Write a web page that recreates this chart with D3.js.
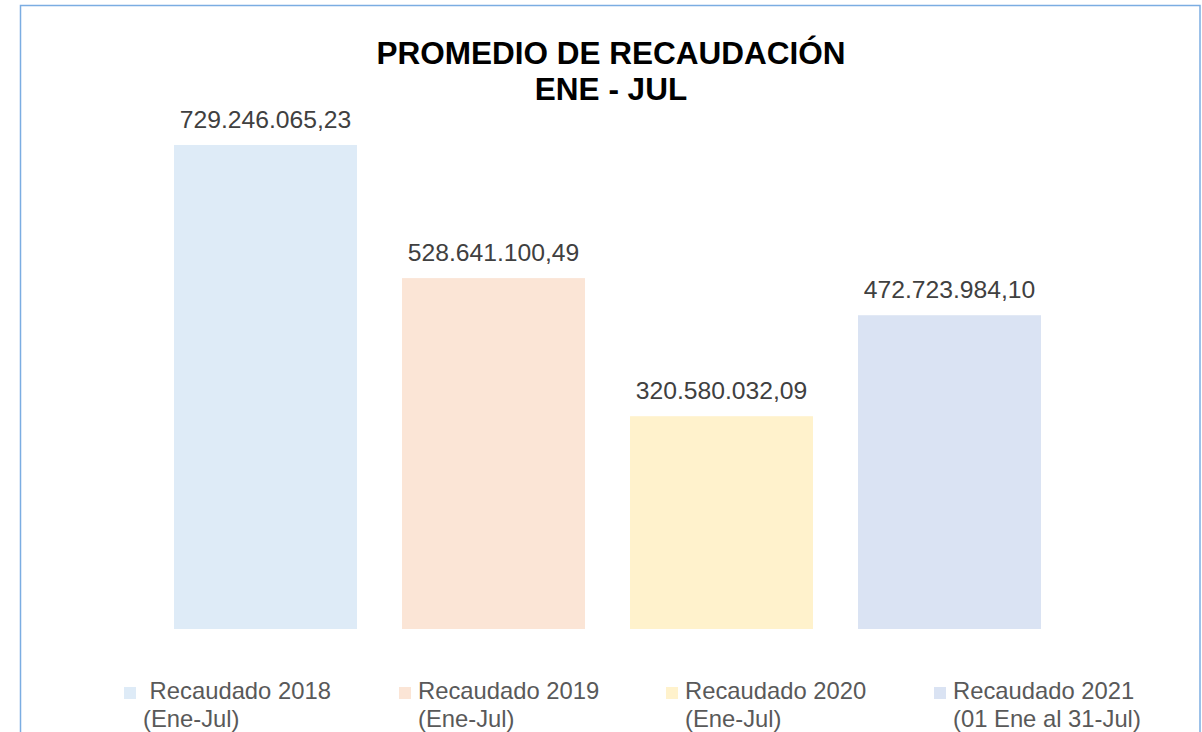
<!DOCTYPE html>
<html>
<head>
<meta charset="utf-8">
<script src="https://cdn.jsdelivr.net/npm/d3@7"></script>
<style>
  body { margin: 0; background: #fff; }
  svg { display: block; font-family: "Liberation Sans", Arial, sans-serif; }
</style>
</head>
<body>
<div id="chart"></div>
<script>
var categories = ["2018", "2019", "2020", "2021"],
    values = [729246065.23, 528641100.49, 320580032.09, 472723984.10],
    colors = ["#deebf7", "#fbe5d6", "#fff2cc", "#dae3f3"],
    legendLine1 = [" Recaudado 2018", "Recaudado 2019", "Recaudado 2020", "Recaudado 2021"],
    legendLine2 = ["(Ene-Jul)", "(Ene-Jul)", "(Ene-Jul)", "(01 Ene al 31-Jul)"],
    titleLines = ["PROMEDIO DE RECAUDACIÓN", "ENE - JUL"];

var width = 1202,
    height = 732;

var es = d3.formatLocale({decimal: ",", thousands: ".", grouping: [3], currency: ["$", ""]}),
    formatValue = es.format(",.2f");

var svg = d3.select("#chart").append("svg")
    .attr("width", width)
    .attr("height", height);

// chart border (bottom runs off the picture)
svg.append("rect")
    .attr("x", 20.5)
    .attr("y", 5.5)
    .attr("width", 1179.5)
    .attr("height", 800)
    .attr("fill", "none")
    .attr("stroke", "#7badE2")
    .attr("stroke-width", 1.5);

var x = d3.scaleBand()
    .domain(categories)
    .range([129, 1086])
    .padding(0.1974);

var y = d3.scaleLinear()
    .domain([0, 800000000])
    .range([629, 98]);

svg.selectAll(".title")
    .data(titleLines)
  .enter().append("text")
    .attr("class", "title")
    .attr("x", 611)
    .attr("y", function(d, i) { return 64 + i * 36; })
    .attr("text-anchor", "middle")
    .style("font-size", "31.5px")
    .style("font-weight", "bold")
    .style("fill", "#000")
    .text(function(d) { return d; });

var bar = svg.selectAll(".bar")
    .data(values)
  .enter().append("g")
    .attr("class", "bar");

bar.append("rect")
    .attr("x", function(d, i) { return x(categories[i]); })
    .attr("y", function(d) { return y(d); })
    .attr("width", x.bandwidth())
    .attr("height", function(d) { return y(0) - y(d); })
    .attr("fill", function(d, i) { return colors[i]; });

bar.append("text")
    .attr("x", function(d, i) { return x(categories[i]) + x.bandwidth() / 2; })
    .attr("y", function(d) { return y(d) - 17; })
    .attr("text-anchor", "middle")
    .style("font-size", "24.7px")
    .style("fill", "#404040")
    .text(function(d) { return formatValue(d); });

// legend
var legendX = [124, 399, 666, 934];

var legend = svg.selectAll(".legend")
    .data(categories)
  .enter().append("g")
    .attr("class", "legend")
    .attr("transform", function(d, i) { return "translate(" + legendX[i] + ",699)"; });

legend.append("rect")
    .attr("x", 0)
    .attr("y", -12)
    .attr("width", 12)
    .attr("height", 12)
    .attr("fill", function(d, i) { return colors[i]; });

legend.append("text")
    .attr("x", 19)
    .attr("y", 0)
    .style("font-size", "23.8px")
    .style("fill", "#595959")
    .style("white-space", "pre")
    .text(function(d, i) { return legendLine1[i]; });

legend.append("text")
    .attr("x", 19)
    .attr("y", 28)
    .style("font-size", "23.8px")
    .style("fill", "#595959")
    .text(function(d, i) { return legendLine2[i]; });
</script>
</body>
</html>
